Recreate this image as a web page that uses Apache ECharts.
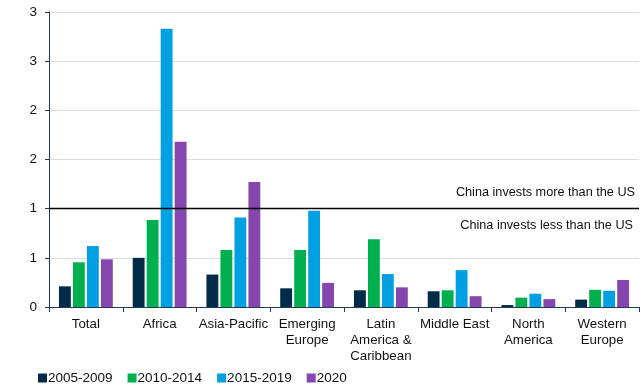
<!DOCTYPE html>
<html><head><meta charset="utf-8">
<script src="https://cdn.jsdelivr.net/npm/echarts@6/dist/echarts.min.js"></script>
<style>html,body{margin:0;padding:0;background:#fff}#c{width:643px;height:385px}</style>
</head><body><div id="c"></div>
<script>
const categories = ['Total','Africa','Asia-Pacific','Emerging\nEurope','Latin\nAmerica &\nCaribbean','Middle East','North\nAmerica','Western\nEurope'];
const seriesNames = ['2005-2009','2010-2014','2015-2019','2020'];
const s2005 = [0.21,0.50,0.33,0.19,0.17,0.16,0.02,0.075];
const s2010 = [0.455,0.885,0.58,0.58,0.69,0.17,0.095,0.175];
const s2015 = [0.62,2.83,0.91,0.98,0.335,0.375,0.135,0.165];
const s2020 = [0.485,1.68,1.27,0.245,0.20,0.11,0.08,0.275];
const yTickLabels = ['0','1','1','2','2','3','3'];
const threshold = 1;
const aboveText = 'China invests more than the US';
const belowText = 'China invests less than the US';
const colors = ['#002b49','#00b04f','#00a0e3','#8547ad'];
const font = 'Arial, "Liberation Sans", sans-serif';

const data = [s2005,s2010,s2015,s2020];
const series = data.map((d,i)=>({
  name: seriesNames[i], type:'bar', data:d,
  barGap:'18%', barCategoryGap:'27%',
  itemStyle:{color:colors[i]}
}));
series[0].markLine = {
  silent:true, symbol:'none',
  data:[
    {yAxis:threshold, lineStyle:{color:'#000',width:1.3,type:'solid'},
     label:{show:true,position:'insideEndTop',formatter:aboveText,color:'#111',fontSize:12.7,fontFamily:font,distance:[4,10]}}
  ]
};
series[1].markLine = {
  silent:true, symbol:'none',
  data:[
    {yAxis:threshold, lineStyle:{color:'rgba(0,0,0,0)',width:0},
     label:{show:true,position:'insideEndBottom',formatter:belowText,color:'#111',fontSize:12.7,fontFamily:font,distance:[6,10]}}
  ]
};
const chart = echarts.init(document.getElementById('c'),null,{renderer:'canvas'});
chart.setOption({
  animation:false,
  color:colors,
  textStyle:{fontFamily:font},
  grid:{left:49,right:4,top:12,bottom:78},
  legend:{
    left:33, top:366, itemWidth:9, itemHeight:9, itemGap:15, icon:'rect',
    textStyle:{fontSize:13.5,color:'#111',fontFamily:font,padding:[0,0,0,-4]},
    data:seriesNames
  },
  xAxis:{
    type:'category', data:categories,
    axisLine:{lineStyle:{color:'#1f3a5a',width:1}},
    axisTick:{show:true,length:5,lineStyle:{color:'#1f3a5a'}},
    axisLabel:{color:'#111',fontSize:13.3,lineHeight:16,margin:9,interval:0,fontFamily:font}
  },
  yAxis:{
    type:'value', min:0, max:3, interval:0.5,
    axisLine:{show:true,lineStyle:{color:'#1f3a5a',width:1}},
    axisTick:{show:true,length:4,lineStyle:{color:'#1f3a5a'}},
    splitLine:{lineStyle:{color:'#dcdcdc',width:1}},
    axisLabel:{color:'#111',fontSize:13.5,margin:12,fontFamily:font,
      formatter:(v)=>yTickLabels[Math.round(v/0.5)]}
  },
  series
});
</script></body></html>
